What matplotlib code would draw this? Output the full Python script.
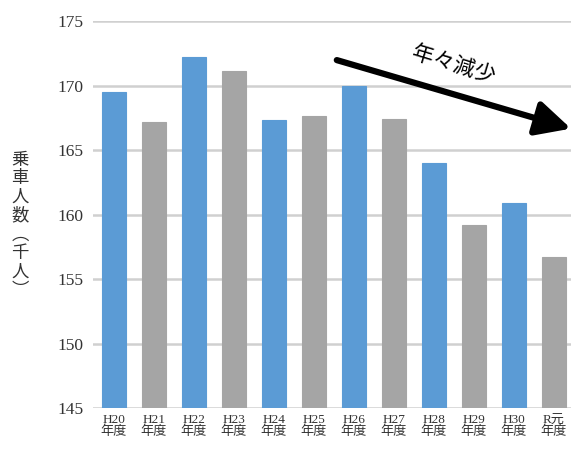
import matplotlib
matplotlib.use("Agg")
import matplotlib.pyplot as plt

plt.rcParams['font.family'] = ['Liberation Serif', 'Noto Sans CJK JP']

# データ
years = ["H20", "H21", "H22", "H23", "H24", "H25", "H26", "H27", "H28", "H29", "H30", "R元"]
riders = [169.5, 167.2, 172.2, 171.1, 167.3, 167.6, 170.0, 167.4, 164.0, 159.2, 160.9, 156.7]
bar_colors = ["#5B9BD5", "#A5A5A5"] * 6
tick_labels = [y + "\n年度" for y in years]
y_label = "乗車人数︵千人︶"

fig = plt.figure(figsize=(5.71, 4.5), dpi=100)
ax = fig.add_axes([0.163, 0.0933, 0.837, 0.86])

x = list(range(len(years)))
ax.bar(x, [r - 145 for r in riders], bottom=145, width=0.62, color=bar_colors,
       edgecolor=bar_colors, linewidth=0.8, zorder=3)

ax.set_ylim(145, 175)
ax.set_xlim(-0.525, 11.425)
ax.set_yticks(range(145, 176, 5))
ax.yaxis.grid(True, color="#D0D0D0", linewidth=1.8, zorder=0)
for s in ["top", "right", "left", "bottom"]:
    ax.spines[s].set_visible(False)
ax.tick_params(axis="both", length=0)
ax.tick_params(axis="y", labelsize=12.5, pad=7, colors="#333333")
ax.set_xticks(x)
ax.set_xticklabels(tick_labels, fontsize=9.5, linespacing=1.0, color="#333333")
ax.tick_params(axis="x", pad=4)

# 縦書きの軸ラベル
fig.text(0.035, 0.5, "\n".join(y_label), ha="center", va="center",
         fontsize=12.5, linespacing=1.05, color="#333333",
         family=["Noto Sans CJK JP", "DejaVu Sans"])

# 矢印と注記
ax.annotate("", xy=(1.0, 0.722), xytext=(0.51, 0.899), xycoords="axes fraction",
            arrowprops=dict(arrowstyle="-|>,head_length=1.5,head_width=0.75",
                            mutation_scale=14, color="black", linewidth=4.5,
                            shrinkA=0, shrinkB=0),
            zorder=5)
ax.text(0.755, 0.886, "年々減少", transform=ax.transAxes, rotation=-17,
        ha="center", va="center", fontsize=15.5,
        family=["Noto Sans CJK JP", "DejaVu Sans"], zorder=5)

fig.savefig("out.png", dpi=100)
